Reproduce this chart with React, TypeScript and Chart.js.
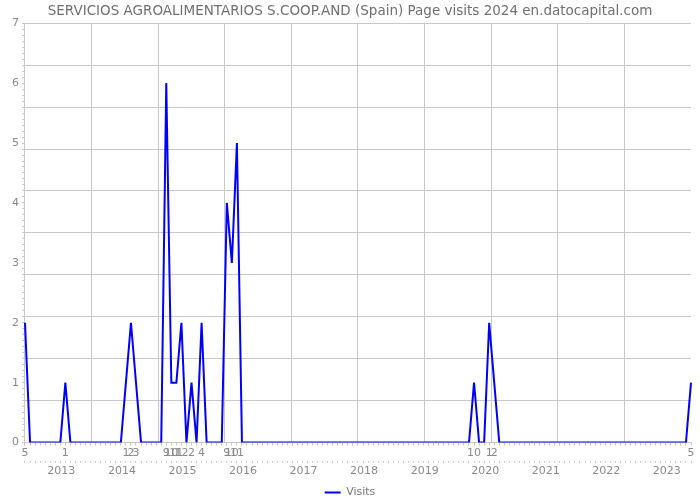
import React, { useEffect, useRef } from "react";
import { Chart, registerables } from "chart.js";

Chart.register(...registerables);

const TITLE = "SERVICIOS AGROALIMENTARIOS S.COOP.AND (Spain) Page visits 2024 en.datocapital.com";
const SERIES_NAME = "Visits";

// Monthly categories: May 2012 .. May 2023
const START_YEAR = 2012;
const START_MONTH = 5;
const MONTH_COUNT = 133;
const months: { y: number; m: number }[] = [];
for (let i = 0; i < MONTH_COUNT; i++) {
  const t = START_MONTH - 1 + i;
  months.push({ y: START_YEAR + Math.floor(t / 12), m: (t % 12) + 1 });
}
const categories = months.map((d) => `${d.y}-${String(d.m).padStart(2, "0")}`);

// Visits per month
const visits2012 = [2, 0, 0, 0, 0, 0, 0, 0]; // May..Dec
const visits2013 = [1, 0, 0, 0, 0, 0, 0, 0, 0, 0, 0, 0];
const visits2014 = [1, 2, 1, 0, 0, 0, 0, 0, 6, 1, 1, 2];
const visits2015 = [0, 1, 0, 2, 0, 0, 0, 0, 4, 3, 5, 0];
const visits2016 = [0, 0, 0, 0, 0, 0, 0, 0, 0, 0, 0, 0];
const visits2017 = [0, 0, 0, 0, 0, 0, 0, 0, 0, 0, 0, 0];
const visits2018 = [0, 0, 0, 0, 0, 0, 0, 0, 0, 0, 0, 0];
const visits2019 = [0, 0, 0, 0, 0, 0, 0, 0, 0, 1, 0, 0];
const visits2020 = [2, 1, 0, 0, 0, 0, 0, 0, 0, 0, 0, 0];
const visits2021 = [0, 0, 0, 0, 0, 0, 0, 0, 0, 0, 0, 0];
const visits2022 = [0, 0, 0, 0, 0, 0, 0, 0, 0, 0, 0, 0];
const visits2023 = [0, 0, 0, 0, 1]; // Jan..May
const visits = [
  ...visits2012, ...visits2013, ...visits2014, ...visits2015, ...visits2016,
  ...visits2017, ...visits2018, ...visits2019, ...visits2020, ...visits2021,
  ...visits2022, ...visits2023,
];

const Y_MAX = 7;
const GRID_DIVISIONS = 10;

const FONT = "'DejaVu Sans', sans-serif";
const GRID = "#c8c8c8";
const TICK_TEXT = "#8a8a8a";

export default function App() {
  const ref = useRef<HTMLCanvasElement | null>(null);
  useEffect(() => {
    document.body.style.margin = "0";
    const ctx = ref.current!;
    const chart = new Chart(ctx, {
      type: "line",
      data: {
        labels: categories,
        datasets: [
          {
            label: SERIES_NAME,
            data: visits,
            borderColor: "#0000ff",
            backgroundColor: "#0000ff",
            borderWidth: 2,
            pointRadius: 0,
            pointHoverRadius: 0,
            pointStyle: "line",
            tension: 0,
            fill: false,
            xAxisID: "x",
            yAxisID: "y",
          },
        ],
      },
      options: {
        animation: false,
        responsive: false,
        maintainAspectRatio: false,
        layout: { padding: { left: 9, right: 9, top: 0, bottom: -8 } },
        plugins: {
          title: {
            display: true,
            text: TITLE,
            color: "#707070",
            font: { family: FONT, size: 13.5, weight: "normal" },
            padding: { top: 3, bottom: 4 },
          },
          legend: {
            display: true,
            position: "bottom",
            labels: {
              usePointStyle: true,
              pointStyleWidth: 16,
              boxHeight: 8,
              color: "#777",
              font: { family: FONT, size: 11 },
              padding: 7,
            },
          },
          tooltip: { enabled: false },
        },
        scales: {
          x: {
            type: "category",
            position: "bottom",
            weight: 0,
            offset: false,
            grid: { drawOnChartArea: false, tickLength: 3, color: GRID },
            border: { display: true, color: GRID },
            ticks: {
              autoSkip: false,
              maxRotation: 0,
              minRotation: 0,
              padding: 1,
              color: TICK_TEXT,
              font: { family: FONT, size: 11 },
              callback: (_v: any, i: number) => (visits[i] > 0 ? String(months[i].m) : ""),
            },
          },
          x2: {
            type: "category",
            position: "bottom",
            weight: 1,
            offset: false,
            grid: { drawOnChartArea: false, tickLength: 2, color: GRID },
            border: { display: false },
            ticks: {
              autoSkip: false,
              maxRotation: 0,
              minRotation: 0,
              padding: 2,
              labelOffset: -4,
              color: TICK_TEXT,
              font: { family: FONT, size: 11 },
              callback: (_v: any, i: number) => (months[i].m === 1 ? String(months[i].y) : ""),
            },
          },
          y: {
            type: "linear",
            position: "left",
            min: 0,
            max: Y_MAX,
            grid: { drawOnChartArea: false, tickLength: 3, color: GRID },
            border: { display: true, color: GRID },
            ticks: {
              stepSize: 0.1,
              autoSkip: false,
              padding: 3,
              color: TICK_TEXT,
              font: { family: FONT, size: 11 },
              callback: (v: any) => {
                const n = Number(v);
                return Math.abs(n - Math.round(n)) < 1e-6 ? String(Math.round(n)) : "";
              },
            },
          },
          gx: {
            type: "linear",
            position: "top",
            min: 0,
            max: GRID_DIVISIONS,
            grid: {
              drawTicks: false,
              color: (c: any) => (c.tick && c.tick.value === GRID_DIVISIONS ? "rgba(0,0,0,0)" : GRID),
            },
            border: { display: false },
            ticks: { display: false, stepSize: 1 },
          },
          gy: {
            type: "linear",
            position: "right",
            min: 0,
            max: GRID_DIVISIONS,
            grid: { drawTicks: false, color: GRID },
            border: { display: false },
            ticks: { display: false, stepSize: 1 },
          },
        },
      },
    });
    return () => chart.destroy();
  }, []);
  return (
    <div style={{ width: 700, height: 500 }}>
      <canvas ref={ref} width={700} height={500} />
    </div>
  );
}
